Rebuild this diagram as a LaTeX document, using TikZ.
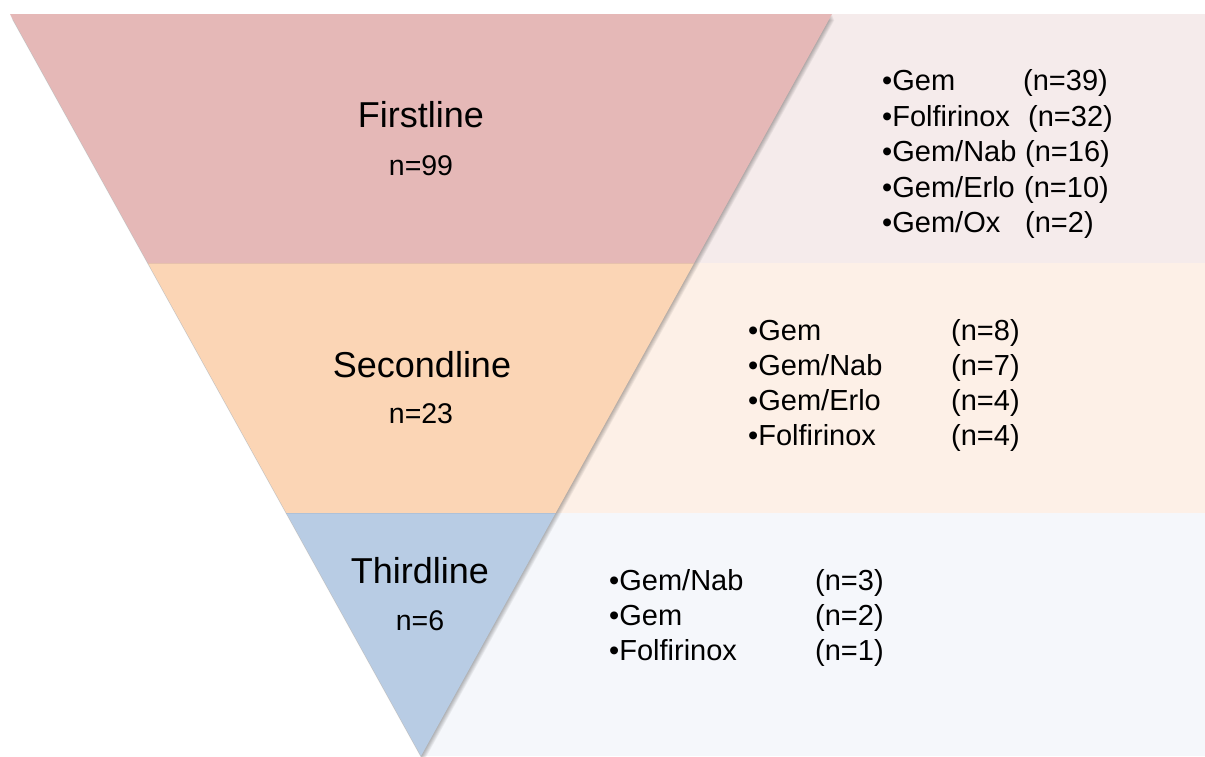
\documentclass[tikz,border=0pt]{standalone}
\usepackage{fontspec}
\setmainfont{Liberation Sans}
\definecolor{bandA}{HTML}{E5B8B7}
\definecolor{bandB}{HTML}{FBD5B5}
\definecolor{bandC}{HTML}{B8CCE4}
\definecolor{panelA}{HTML}{F5EBEB}
\definecolor{panelB}{HTML}{FDF0E7}
\definecolor{panelC}{HTML}{F5F7FB}
\tikzset{
  head/.style={font=\fontsize{36}{40}\selectfont, anchor=base, inner sep=0pt},
  count/.style={font=\fontsize{28.5}{32}\selectfont, anchor=base, inner sep=0pt},
  item/.style={font=\fontsize{29}{33}\selectfont, anchor=base west, inner sep=0pt},
}
\begin{document}
\begin{tikzpicture}[x=1pt,y=-1pt]
\useasboundingbox (0,0) rectangle (1205,756);
\fill[white] (0,0) rectangle (1205,756);
% right panels
\fill[panelA] (421,14) rectangle (1205,263);
\fill[panelB] (421,263) rectangle (1205,513);
\fill[panelC] (421,513) rectangle (1205,756);
% soft shadow
\foreach \d in {1,2,3,4,5,6}{
  \fill[black,opacity=0.05] (10+0.4*\d,14+\d) -- (832+0.4*\d,14+\d) -- (421+0.4*\d,756+\d) -- cycle;
}
% bands
\coordinate (tl) at (10,14);
\coordinate (tr) at (832,14);
\coordinate (ap) at (421,756);
\coordinate (l1) at (147.9,263);
\coordinate (r1) at (694.1,263);
\coordinate (l2) at (286.4,513);
\coordinate (r2) at (555.6,513);
\fill[bandA] (tl) -- (tr) -- (r1) -- (l1) -- cycle;
\fill[bandB] (l1) -- (r1) -- (r2) -- (l2) -- cycle;
\fill[bandC] (l2) -- (r2) -- (ap) -- cycle;
\draw[bandA!85!black,line width=0.5pt,opacity=0.35] (l1) -- (r1);
\draw[bandC!85!black,line width=0.5pt,opacity=0.35] (l2) -- (r2);
% headings
\node[head] (h1) at (421,127) {Firstline};
\node[count] (c1) at (421,175) {n=99};
\node[head] (h2) at (422,377) {Secondline};
\node[count] (c2) at (421,423) {n=23};
\node[head] (h3) at (420,583) {Thirdline};
\node[count] (c3) at (420,630) {n=6};
% first list
\node[item] (a1) at (882,90) {•Gem};
\node[item] (a1n) at (1023,90) {(n=39)};
\node[item] (a2) at (882,126) {•Folfirinox};
\node[item] (a2n) at (1028,126) {(n=32)};
\node[item] (a3) at (882,161) {•Gem/Nab};
\node[item] (a3n) at (1025,161) {(n=16)};
\node[item] (a4) at (882,197) {•Gem/Erlo};
\node[item] (a4n) at (1024,197) {(n=10)};
\node[item] (a5) at (882,232) {•Gem/Ox};
\node[item] (a5n) at (1025,232) {(n=2)};
% second list
\node[item] (b1) at (748,340) {•Gem};
\node[item] (b1n) at (951,340) {(n=8)};
\node[item] (b2) at (748,375) {•Gem/Nab};
\node[item] (b2n) at (951,375) {(n=7)};
\node[item] (b3) at (748,410) {•Gem/Erlo};
\node[item] (b3n) at (951,410) {(n=4)};
\node[item] (b4) at (748,445) {•Folfirinox};
\node[item] (b4n) at (951,445) {(n=4)};
% third list
\node[item] (d1) at (609,590) {•Gem/Nab};
\node[item] (d1n) at (815,590) {(n=3)};
\node[item] (d2) at (609,625) {•Gem};
\node[item] (d2n) at (815,625) {(n=2)};
\node[item] (d3) at (609,660) {•Folfirinox};
\node[item] (d3n) at (815,660) {(n=1)};
\end{tikzpicture}
\end{document}
